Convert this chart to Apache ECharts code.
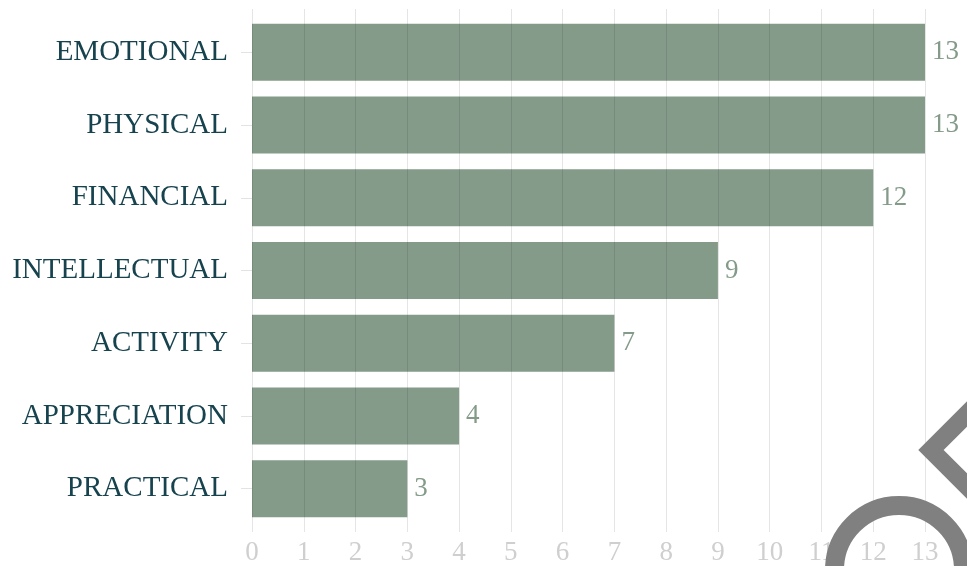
<!DOCTYPE html>
<html>
<head>
<meta charset="utf-8">
<script src="https://cdn.jsdelivr.net/npm/echarts@6/dist/echarts.min.js"></script>
<style>html,body{margin:0;padding:0;background:#fff}#c{width:967px;height:566px}</style>
</head>
<body>
<div id="c"></div>
<script>
const categories = ["EMOTIONAL", "PHYSICAL", "FINANCIAL", "INTELLECTUAL", "ACTIVITY", "APPRECIATION", "PRACTICAL"];
const values = [13, 13, 12, 9, 7, 4, 3];
const xTicks = [0, 13, 1];

const serif = '"Liberation Serif", "DejaVu Serif", serif';
const chart = echarts.init(document.getElementById('c'), null, {renderer: 'canvas'});
chart.setOption({
  animation: false,
  grid: {left: 252, right: 42, top: 16, bottom: 41, containLabel: false},
  xAxis: [{
    type: 'value', min: xTicks[0], max: xTicks[1], interval: xTicks[2], position: 'bottom', z: 5,
    axisLine: {show: false},
    axisTick: {show: true, length: 7, lineStyle: {color: 'rgba(0,0,0,0.1)'}},
    splitLine: {show: true, lineStyle: {color: 'rgba(0,0,0,0.1)', width: 1}},
    axisLabel: {color: '#cfcfcf', fontFamily: serif, fontSize: 27, margin: 14}
  }, {
    type: 'value', min: xTicks[0], max: xTicks[1], interval: xTicks[2], position: 'top', z: 5,
    axisLine: {show: false},
    axisTick: {show: true, length: 7, lineStyle: {color: 'rgba(0,0,0,0.1)'}},
    splitLine: {show: false},
    axisLabel: {show: false}
  }],
  yAxis: {
    type: 'category', data: categories, inverse: true,
    axisLine: {show: false},
    axisTick: {show: true, alignWithLabel: true, length: 11, lineStyle: {color: '#e3e3e3'}},
    axisLabel: {color: '#17434f', fontFamily: serif, fontSize: 29, margin: 24}
  },
  series: [{
    type: 'bar', data: values, barCategoryGap: '21.6%',
    itemStyle: {color: '#849b89'},
    label: {show: true, position: 'right', distance: 7, color: '#849b89', fontFamily: serif, fontSize: 27}
  }],
  graphic: [
    {type: 'circle', z: 100, shape: {cx: 899, cy: 570, r: 64.5}, style: {fill: null, stroke: '#808080', lineWidth: 19}},
    {type: 'polyline', z: 100, shape: {points: [[1010, 371], [931, 450], [1010, 529]]}, style: {fill: null, stroke: '#808080', lineWidth: 18, lineJoin: 'miter'}}
  ]
});
</script>
</body>
</html>
